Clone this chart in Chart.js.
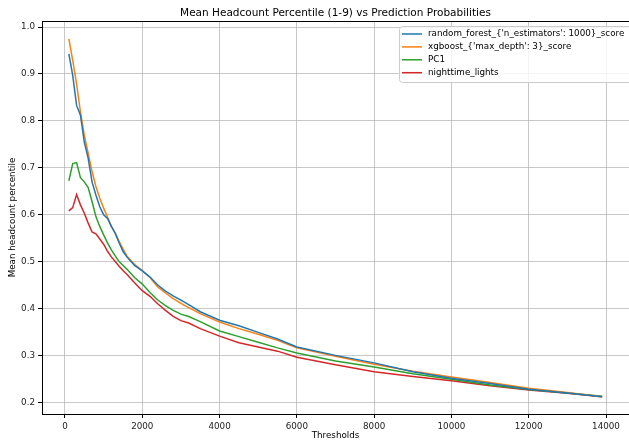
<!DOCTYPE html>
<html>
<head>
<meta charset="utf-8">
<script src="https://cdn.jsdelivr.net/npm/chart.js@4/dist/chart.umd.min.js"></script>
<style>
  html, body { margin: 0; padding: 0; background: #fff; overflow: hidden; }
  canvas { display: block; }
</style>
</head>
<body>
<canvas id="chart" width="629" height="442"></canvas>
<script>
var thresholds = [100, 200, 300, 400, 500, 600, 700, 800, 900, 1000, 1100, 1200, 1300, 1400, 1500, 1600, 1800, 2000,
  2200, 2400, 2600, 2800, 3000, 3200, 3500, 4000, 4500, 5000, 5500, 6000, 7000, 8000, 9000, 10000, 11000, 12000, 13000, 13900];

var randomForest = [0.943, 0.897, 0.833, 0.812, 0.755, 0.720, 0.670, 0.642, 0.617, 0.600, 0.592, 0.575, 0.560, 0.540, 0.522, 0.510, 0.492, 0.480,
  0.467, 0.450, 0.437, 0.427, 0.418, 0.408, 0.393, 0.375, 0.363, 0.349, 0.335, 0.318, 0.300, 0.284, 0.265, 0.251, 0.240, 0.228, 0.220, 0.212];
var xgboost = [0.975, 0.929, 0.879, 0.819, 0.769, 0.731, 0.692, 0.660, 0.635, 0.614, 0.595, 0.575, 0.561, 0.543, 0.527, 0.512, 0.494, 0.481,
  0.466, 0.446, 0.433, 0.421, 0.411, 0.402, 0.389, 0.371, 0.357, 0.345, 0.332, 0.316, 0.298, 0.281, 0.266, 0.254, 0.242, 0.230, 0.221, 0.212];
var pc1 = [0.672, 0.709, 0.711, 0.679, 0.670, 0.658, 0.628, 0.596, 0.575, 0.557, 0.540, 0.525, 0.512, 0.500, 0.492, 0.484, 0.466, 0.452,
  0.434, 0.418, 0.406, 0.396, 0.388, 0.383, 0.372, 0.352, 0.340, 0.328, 0.316, 0.305, 0.288, 0.275, 0.261, 0.249, 0.237, 0.227, 0.220, 0.213];
var nighttimeLights = [0.608, 0.615, 0.643, 0.621, 0.603, 0.582, 0.563, 0.559, 0.548, 0.537, 0.522, 0.510, 0.500, 0.490, 0.481, 0.473, 0.455, 0.438,
  0.426, 0.410, 0.396, 0.383, 0.374, 0.369, 0.357, 0.341, 0.327, 0.318, 0.309, 0.296, 0.280, 0.265, 0.255, 0.246, 0.235, 0.226, 0.219, 0.212];

var seriesNames = ["random_forest_{'n_estimators': 1000}_score", "xgboost_{'max_depth': 3}_score", 'PC1', 'nighttime_lights'];
var seriesColors = ['#1f77b4', '#ff7f0e', '#2ca02c', '#d62728'];

var xTicks = [0, 2000, 4000, 6000, 8000, 10000, 12000, 14000];
var yTicks = [0.2, 0.3, 0.4, 0.5, 0.6, 0.7, 0.8, 0.9, 1.0];

var chartTitle = 'Mean Headcount Percentile (1-9) vs Prediction Probabilities';
var FONT = 'DejaVu Sans';

function toPoints(ys) {
  return thresholds.map(function(t, i) { return {x: t, y: ys[i]}; });
}

var allSeries = [randomForest, xgboost, pc1, nighttimeLights];
var datasets = allSeries.map(function(ys, i) {
  return {
    label: seriesNames[i],
    data: toPoints(ys),
    borderColor: seriesColors[i],
    backgroundColor: seriesColors[i],
    borderWidth: 1.5,
    pointRadius: 0,
    tension: 0,
    fill: false
  };
});

// frame, title over the axes and a matplotlib style legend
var framePlugin = {
  id: 'frame',
  afterDraw: function(chart) {
    var ctx = chart.ctx, a = chart.chartArea;
    ctx.save();
    ctx.strokeStyle = '#000';
    ctx.lineWidth = 1;
    ctx.strokeRect(a.left + 0.5, a.top + 0.5, a.right - a.left, a.bottom - a.top);

    ctx.fillStyle = '#000';
    ctx.font = '10.5px "' + FONT + '"';
    ctx.textAlign = 'center';
    ctx.textBaseline = 'middle';
    ctx.fillText(chartTitle, (a.left + a.right) / 2, 13);

    var bx = 399, by = 26, bw = 260, bh = 56;
    ctx.fillStyle = 'rgba(255,255,255,0.8)';
    ctx.strokeStyle = '#cccccc';
    ctx.beginPath();
    ctx.roundRect(bx + 0.5, by + 0.5, bw, bh, 3);
    ctx.fill();
    ctx.stroke();

    ctx.font = '8.75px "' + FONT + '"';
    ctx.textAlign = 'left';
    chart.data.datasets.forEach(function(ds, i) {
      var y = 34 + i * 12.9;
      ctx.strokeStyle = ds.borderColor;
      ctx.lineWidth = 1.5;
      ctx.beginPath();
      ctx.moveTo(402, y);
      ctx.lineTo(422, y);
      ctx.stroke();
      ctx.fillStyle = '#000';
      ctx.fillText(ds.label, 428, y);
    });
    ctx.restore();
  }
};

new Chart(document.getElementById('chart'), {
  type: 'line',
  data: { datasets: datasets },
  plugins: [framePlugin],
  options: {
    responsive: false,
    animation: false,
    devicePixelRatio: 1,
    layout: { padding: { top: 21, right: 0, bottom: 0, left: 0 } },
    plugins: {
      legend: { display: false },
      tooltip: { enabled: false },
      title: { display: false }
    },
    scales: {
      x: {
        type: 'linear',
        min: -595,
        max: 14595,
        afterBuildTicks: function(s) { s.ticks = xTicks.map(function(v) { return {value: v}; }); },
        afterFit: function(s) { s.height = 28; },
        ticks: {
          color: '#222',
          font: { family: FONT, size: 8.75 },
          padding: 3,
          maxRotation: 0,
          callback: function(v) { return String(v); }
        },
        grid: { color: 'rgba(176,176,176,0.7)', lineWidth: 1, tickLength: 4, tickColor: '#000' },
        border: { color: '#000' },
        title: { display: true, text: 'Thresholds', color: '#000', font: { family: FONT, size: 8.75 }, padding: { top: 2, bottom: 1 } }
      },
      y: {
        type: 'linear',
        min: 0.175,
        max: 1.013,
        afterBuildTicks: function(s) { s.ticks = yTicks.map(function(v) { return {value: v}; }); },
        afterFit: function(s) { s.width = 42; },
        ticks: {
          color: '#222',
          font: { family: FONT, size: 8.75 },
          padding: 3,
          callback: function(v) { return v.toFixed(1); }
        },
        grid: { color: 'rgba(176,176,176,0.7)', lineWidth: 1, tickLength: 4, tickColor: '#000' },
        border: { color: '#000' },
        title: { display: true, text: 'Mean headcount percentile', color: '#000', font: { family: FONT, size: 8.75 }, padding: { top: 7, bottom: 0 } }
      }
    }
  }
});
</script>
</body>
</html>
